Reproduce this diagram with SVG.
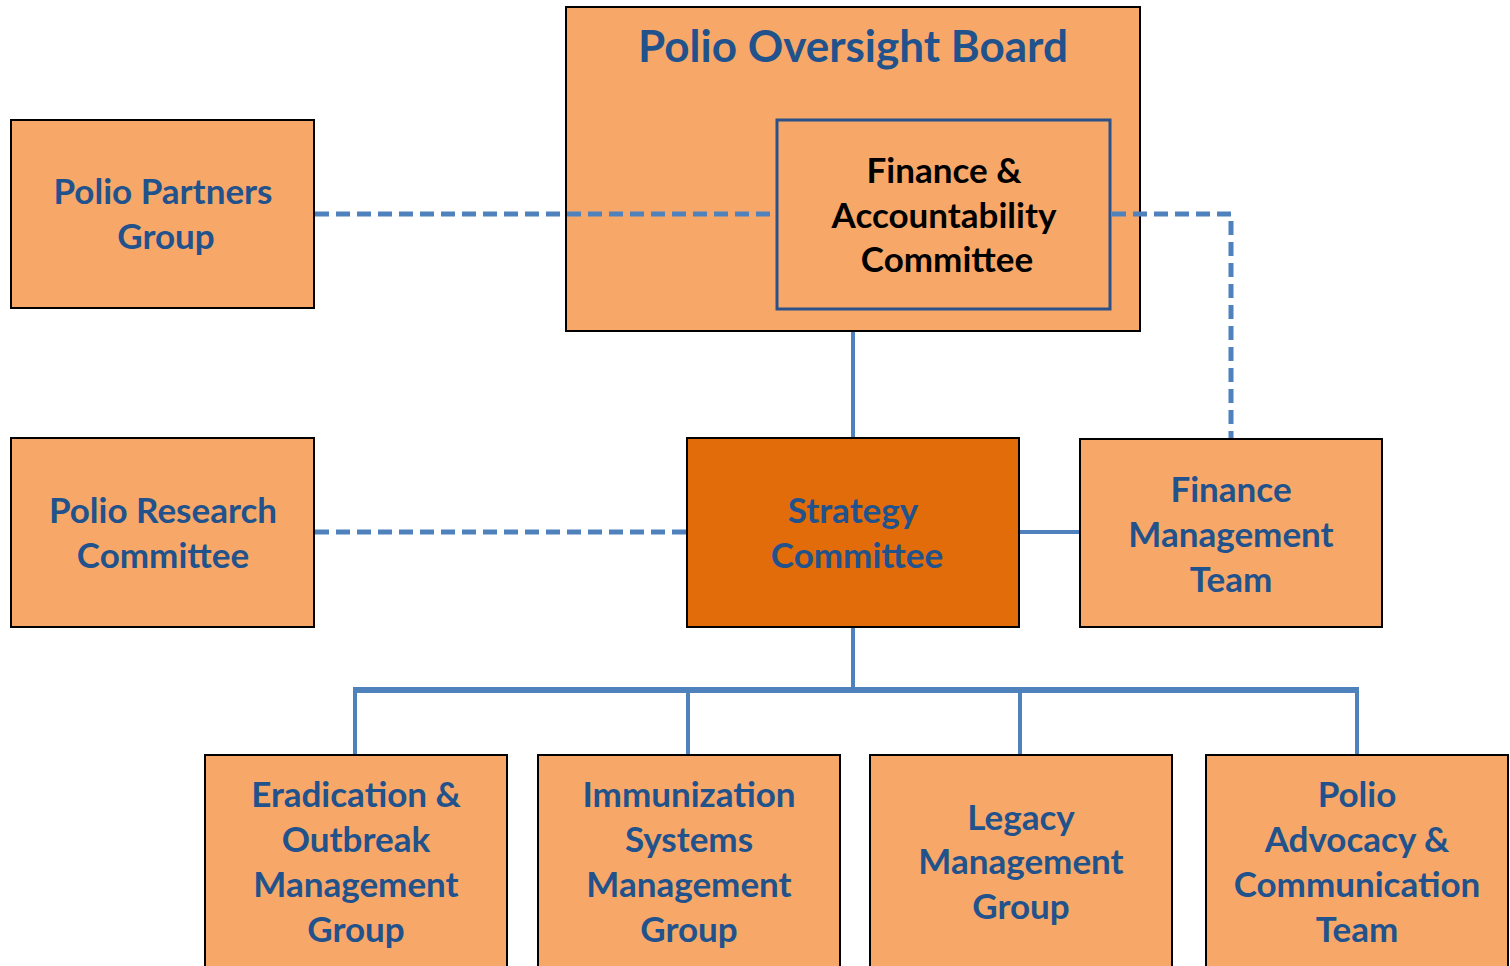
<svg xmlns="http://www.w3.org/2000/svg" width="1510" height="966" viewBox="0 0 1510 966">
<style>
.box{fill:#F7A869;stroke:#000;stroke-width:2}
.strat{fill:#E36C0A;stroke:#000;stroke-width:2}
.inner{fill:none;stroke:#2A5189;stroke-width:3}
.t{font-family:Lato,"Liberation Sans",sans-serif;font-weight:bold;font-size:35px;fill:#22528C;text-anchor:middle}
.k{fill:#000}
.title{font-size:44px}
.sol{fill:none;stroke:#4F81BD;stroke-width:4}
.bar{fill:none;stroke:#4F81BD;stroke-width:6}
.dash{fill:none;stroke:#4F81BD;stroke-width:5;stroke-dasharray:14 7}
</style>
<rect width="1510" height="966" fill="#fff"/>
<g id="oversight">
<rect class="box" x="566" y="7" width="574" height="324"/>
<text class="t title" x="853" y="62">Polio Oversight Board</text>
</g>
<g id="finance-accountability">
<rect class="inner" x="777" y="120" width="333" height="189"/>
<text class="t k" x="944" y="183">Finance &amp;</text>
<text class="t k" x="944" y="228">Accountability</text>
<text class="t k" x="947" y="272">Committee</text>
</g>
<g id="partners">
<rect class="box" x="11" y="120" width="303" height="188"/>
<text class="t" x="163" y="204">Polio Partners</text>
<text class="t" x="166" y="249">Group</text>
</g>
<g id="research">
<rect class="box" x="11" y="438" width="303" height="189"/>
<text class="t" x="163" y="523">Polio Research</text>
<text class="t" x="163" y="568">Committee</text>
</g>
<g id="strategy">
<rect class="strat" x="687" y="438" width="332" height="189"/>
<text class="t" x="853" y="523">Strategy</text>
<text class="t" x="857" y="568">Committee</text>
</g>
<g id="finance-mgmt">
<rect class="box" x="1080" y="439" width="302" height="188"/>
<text class="t" x="1231" y="502">Finance</text>
<text class="t" x="1231" y="547">Management</text>
<text class="t" x="1231" y="592">Team</text>
</g>
<g id="eradication">
<rect class="box" x="205" y="755" width="302" height="220"/>
<text class="t" x="356" y="807">Eradication &amp;</text>
<text class="t" x="356" y="852">Outbreak</text>
<text class="t" x="356" y="897">Management</text>
<text class="t" x="356" y="942">Group</text>
</g>
<g id="immunization">
<rect class="box" x="538" y="755" width="302" height="220"/>
<text class="t" x="689" y="807">Immunization</text>
<text class="t" x="689" y="852">Systems</text>
<text class="t" x="689" y="897">Management</text>
<text class="t" x="689" y="942">Group</text>
</g>
<g id="legacy">
<rect class="box" x="870" y="755" width="302" height="220"/>
<text class="t" x="1021" y="830">Legacy</text>
<text class="t" x="1021" y="874">Management</text>
<text class="t" x="1021" y="919">Group</text>
</g>
<g id="advocacy">
<rect class="box" x="1206" y="755" width="302" height="220"/>
<text class="t" x="1357" y="807">Polio</text>
<text class="t" x="1357" y="852">Advocacy &amp;</text>
<text class="t" x="1357" y="897">Communication</text>
<text class="t" x="1357" y="942">Team</text>
</g>
<g id="connectors">
<path class="dash" d="M315,214 H776"/>
<path class="dash" d="M1112,214 H1231 V438"/>
<path class="sol" d="M853,332 V437"/>
<path class="dash" d="M315,532 H686"/>
<path class="sol" d="M1020,532 H1079"/>
<path class="sol" d="M853,628 V690 M355,754 V690 M688,690 V754 M1020,690 V754 M1357,690 V754"/>
<path class="bar" d="M353,690 H1359"/>
</g>
</svg>
